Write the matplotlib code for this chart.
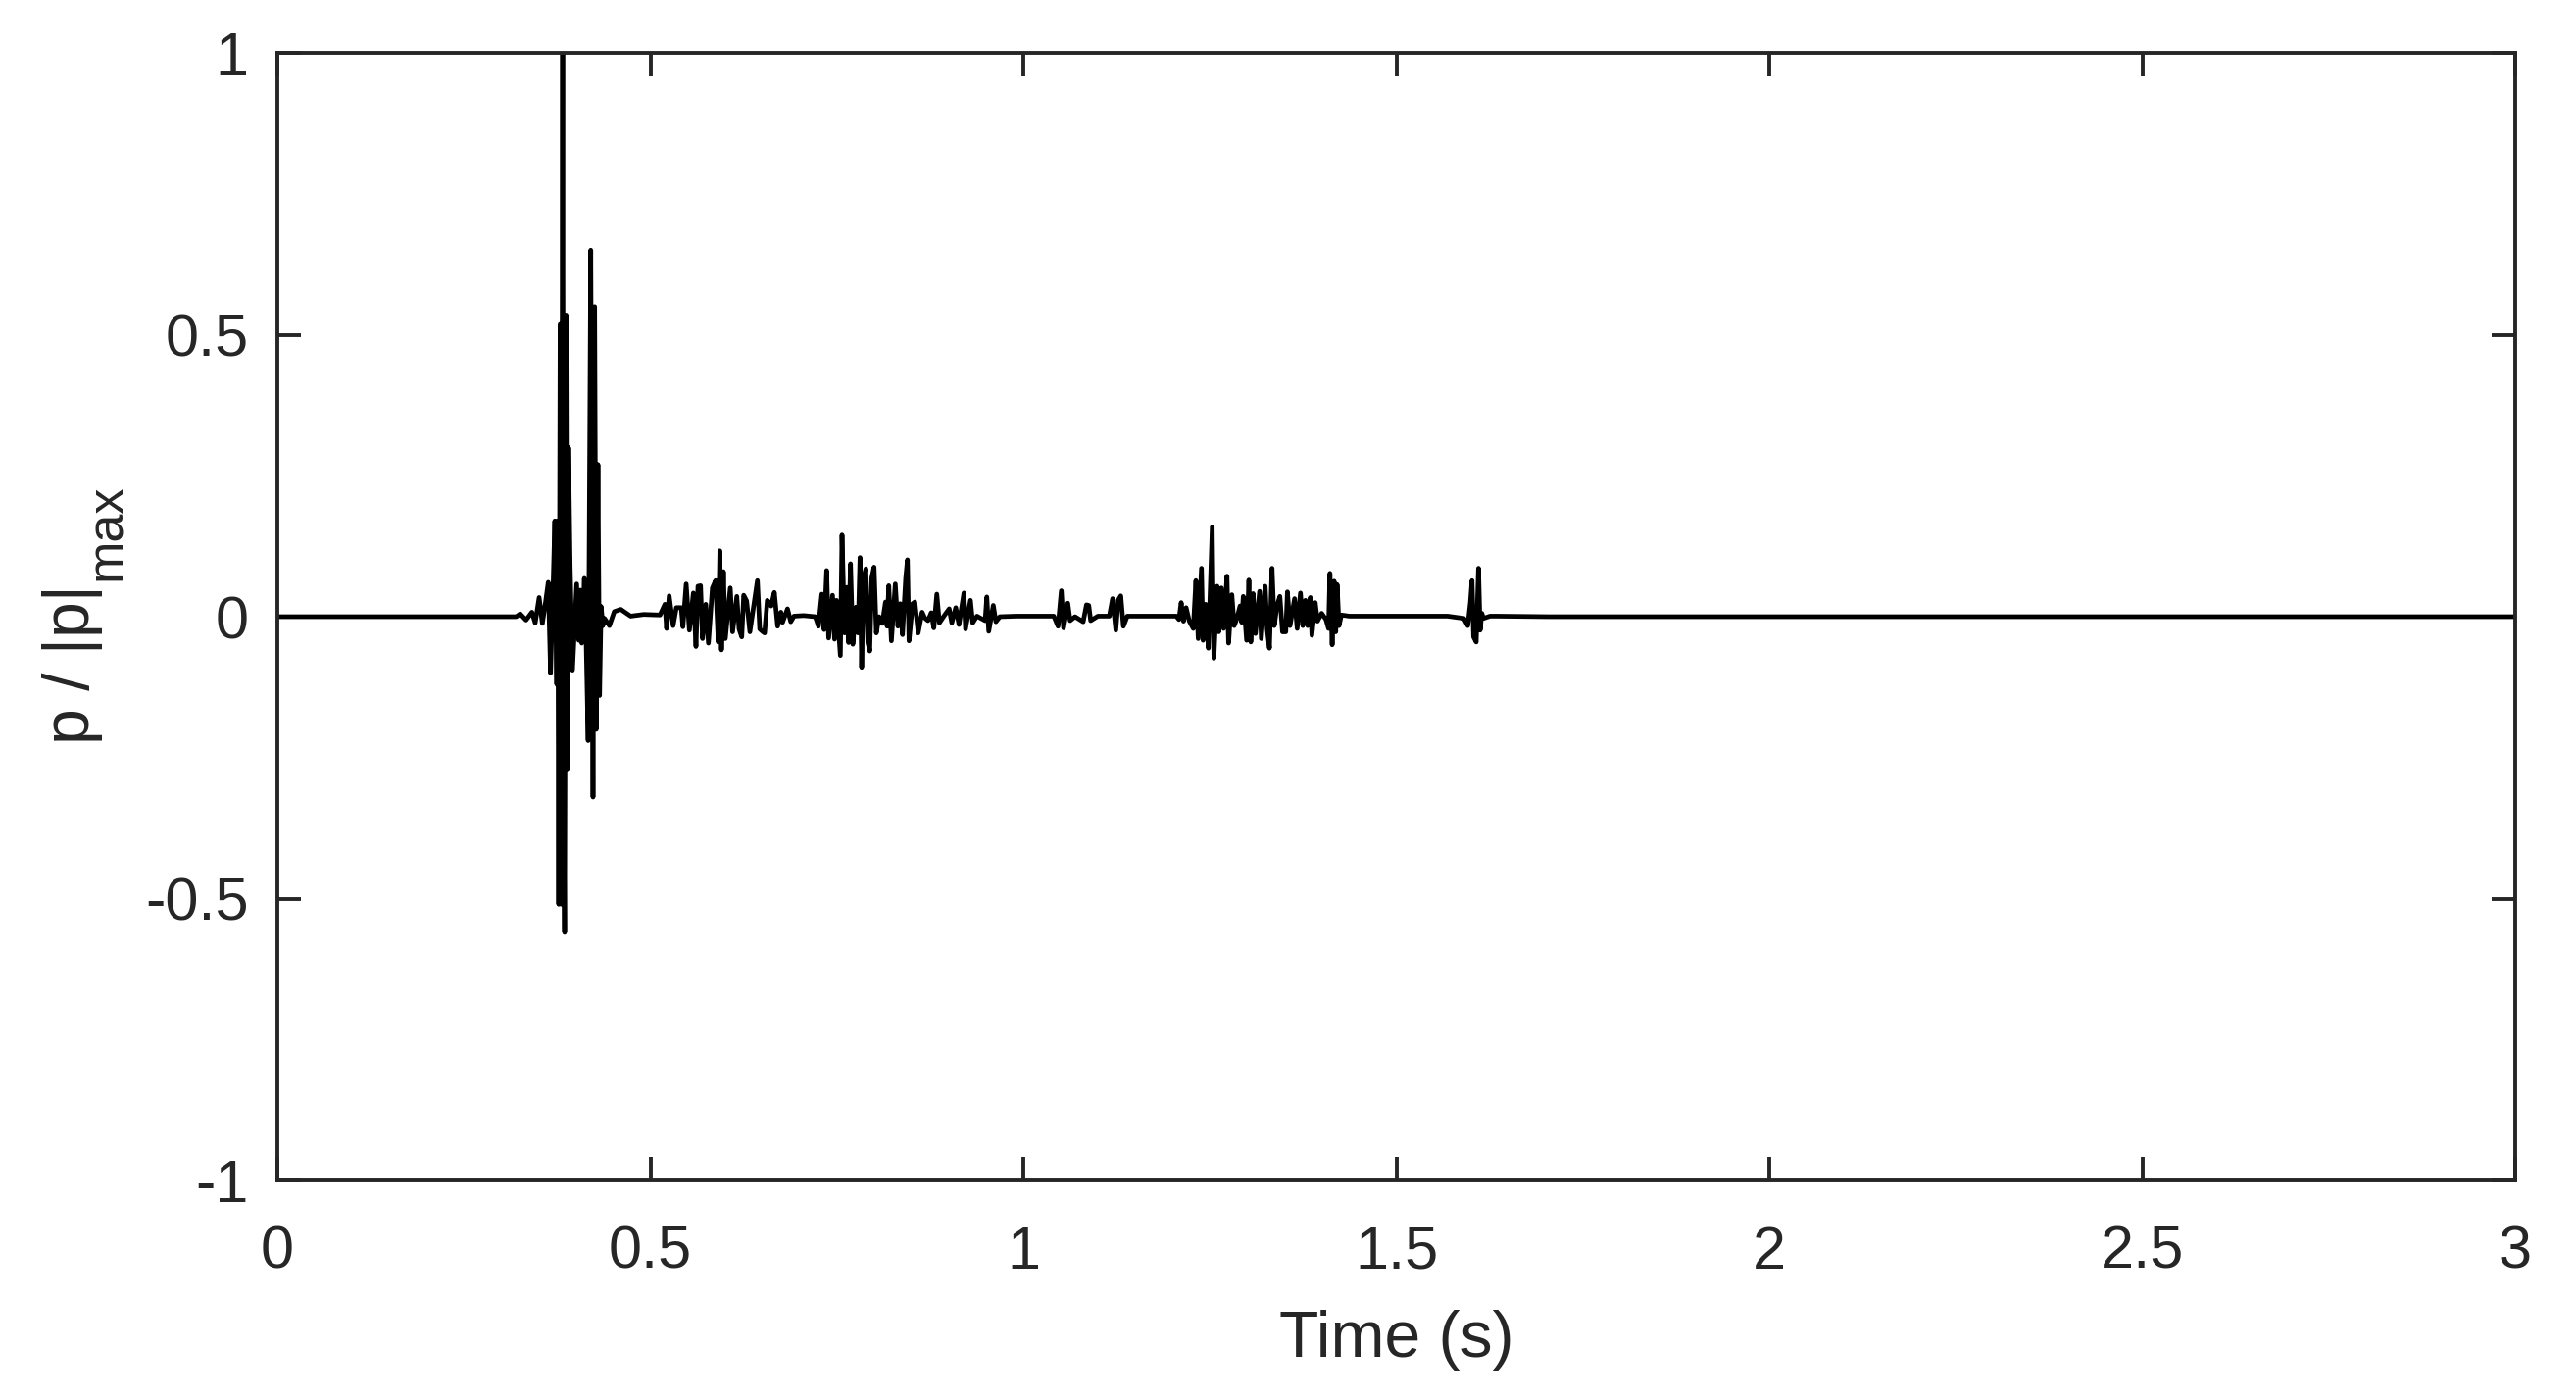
import matplotlib
matplotlib.use("Agg")
import matplotlib.pyplot as plt

plt.rcParams['font.family'] = ['Liberation Sans', 'DejaVu Sans']
plt.rcParams['axes.unicode_minus'] = False

# --- data: time (s) and normalised pressure ---
t_s = [
    0.0, 0.3000, 0.3202, 0.3255, 0.3333, 0.3412, 0.3456, 0.3509, 0.3552, 0.3596,
    0.3631, 0.3662, 0.3695, 0.3719, 0.3745, 0.3758, 0.3771, 0.3790, 0.3805, 0.3824,
    0.3838, 0.3850, 0.3870, 0.3886, 0.3903, 0.3925, 0.3956, 0.4012, 0.4040, 0.4060,
    0.4080, 0.4115, 0.4140, 0.4166, 0.4201, 0.4231, 0.4253, 0.4275, 0.4297, 0.4319,
    0.4340, 0.4363, 0.4385, 0.4451, 0.4516, 0.4603, 0.4735, 0.4911, 0.5129,
    # burst 0.52 - 0.69 s
    0.5195, 0.5217, 0.5252, 0.5305, 0.5348, 0.5414, 0.5436, 0.5480, 0.5523, 0.5576,
    0.5611, 0.5638, 0.5673, 0.5699, 0.5743, 0.5778, 0.5831, 0.5874, 0.5909, 0.5931,
    0.5953, 0.5979, 0.6005, 0.6071, 0.6102, 0.6159, 0.6189, 0.6225, 0.6251, 0.6290,
    0.6334, 0.6378, 0.6435, 0.6466, 0.6509, 0.6531, 0.6567, 0.6619, 0.6662, 0.6706,
    0.6750, 0.6772, 0.6838, 0.6882, 0.6925, 0.7057, 0.7210,
    # burst 0.72 - 0.97 s
    0.7254, 0.7298, 0.7329, 0.7363, 0.7390, 0.7442, 0.7469, 0.7495, 0.7547, 0.7569,
    0.7604, 0.7635, 0.7657, 0.7683, 0.7714, 0.7757, 0.7784, 0.7810, 0.7832, 0.7858,
    0.7889, 0.7915, 0.7941, 0.7968, 0.7999, 0.8029, 0.8065, 0.8108, 0.8152, 0.8174,
    0.8196, 0.8231, 0.8283, 0.8318, 0.8349, 0.8380, 0.8423, 0.8446, 0.8467, 0.8515,
    0.8546, 0.8590, 0.8643, 0.8677, 0.8721, 0.8765, 0.8800, 0.8840, 0.8874, 0.8940,
    0.9006, 0.9041, 0.9094, 0.9137, 0.9203, 0.9225, 0.9291, 0.9321, 0.9378, 0.9488,
    0.9510, 0.9536, 0.9597, 0.9632, 0.9685, 0.9904,
    # small bursts 1.04 - 1.14 s
    1.0408, 1.0465, 1.0509, 1.0539, 1.0596, 1.0627, 1.0693, 1.0802, 1.0846, 1.0877,
    1.0903, 1.0999, 1.1153, 1.1196, 1.1240, 1.1271, 1.1306, 1.1341, 1.1393, 1.1634,
    # burst 1.20 - 1.43 s
    1.2050, 1.2086, 1.2116, 1.2147, 1.2182, 1.2225, 1.2278, 1.2313, 1.2344, 1.2388,
    1.2409, 1.2444, 1.2480, 1.2532, 1.2554, 1.2598, 1.2620, 1.2655, 1.2685, 1.2730,
    1.2751, 1.2795, 1.2826, 1.2861, 1.2905, 1.2927, 1.2948, 1.2993, 1.3023, 1.3049,
    1.3080, 1.3111, 1.3167, 1.3190, 1.3242, 1.3268, 1.3299, 1.3334, 1.3364, 1.3400,
    1.3439, 1.3474, 1.3518, 1.3540, 1.3575, 1.3636, 1.3671, 1.3715, 1.3746, 1.3781,
    1.3811, 1.3847, 1.3868, 1.3913, 1.3943, 1.3999, 1.4057, 1.4091, 1.4110, 1.4140,
    1.4166, 1.4188, 1.4206, 1.4232, 1.4263, 1.4372, 1.4591, 1.5687,
    # last burst around 1.6 s
    1.5905, 1.5958, 1.5993, 1.6015, 1.6036, 1.6071, 1.6102, 1.6124, 1.6146, 1.6168,
    1.6256, 1.6343, 1.7044, 3.0,
]

p_norm = [
    0.0, 0.0, 0.0, 0.005, -0.006, 0.008, -0.011, 0.034, -0.012, 0.027,
    0.061, -0.100, 0.050, 0.170, -0.120, 0.170, -0.510, 0.520, -0.510, 1.000,
    -0.300, -0.560, 0.535, -0.270, 0.300, 0.090, -0.095, 0.058, -0.042, 0.047,
    -0.047, 0.068, -0.050, -0.220, 0.650, -0.320, 0.550, -0.200, 0.270, -0.140,
    0.018, -0.016, -0.003, -0.016, 0.009, 0.013, 0.001, 0.004, 0.003,
    # burst 0.52 - 0.69 s
    0.022, -0.021, 0.037, -0.016, 0.016, 0.016, -0.018, 0.058, -0.024, 0.042,
    -0.053, 0.054, 0.055, -0.039, 0.022, -0.047, 0.051, 0.064, -0.045, 0.117,
    -0.059, 0.080, -0.039, 0.051, -0.027, 0.036, -0.022, -0.036, 0.038, 0.028,
    -0.027, 0.013, 0.064, -0.022, -0.027, -0.029, 0.029, 0.019, 0.043, -0.017,
    0.008, -0.010, 0.014, -0.009, 0.001, 0.002, 0.0,
    # burst 0.72 - 0.97 s
    -0.017, 0.040, -0.023, 0.082, -0.038, 0.038, -0.040, 0.029, -0.069, 0.145,
    -0.029, 0.052, -0.046, 0.094, -0.049, 0.017, -0.029, 0.105, -0.090, 0.069,
    0.085, -0.046, -0.061, 0.069, 0.088, -0.029, 0.0, -0.012, 0.026, -0.017,
    0.055, -0.043, 0.058, -0.017, 0.023, -0.032, 0.069, 0.101, -0.043, 0.023,
    0.026, -0.029, 0.008, -0.002, -0.007, 0.007, -0.020, 0.040, -0.011, 0.002,
    0.014, -0.011, 0.016, -0.014, 0.042, -0.022, 0.029, -0.011, 0.001, -0.007,
    0.035, -0.026, 0.020, -0.009, 0.0, 0.001,
    # small bursts 1.04 - 1.14 s
    0.001, -0.017, 0.046, -0.020, 0.024, -0.007, 0.0, -0.009, 0.021, 0.020,
    -0.007, 0.001, 0.001, 0.032, -0.024, 0.029, 0.037, -0.017, 0.001, 0.001,
    # burst 1.20 - 1.43 s
    0.001, -0.005, 0.025, -0.008, 0.016, -0.008, -0.021, 0.064, -0.039, 0.086,
    -0.042, 0.022, -0.056, 0.159, -0.074, 0.054, -0.027, 0.051, -0.021, 0.072,
    -0.047, 0.039, -0.016, -0.004, 0.019, -0.010, 0.036, -0.042, 0.065, -0.045,
    0.041, -0.030, 0.045, -0.039, 0.054, -0.021, -0.056, 0.086, -0.016, 0.019,
    0.036, -0.027, -0.027, 0.044, -0.016, 0.032, -0.021, 0.042, -0.016, 0.029,
    -0.016, 0.034, -0.033, 0.025, -0.008, 0.006, -0.005, -0.021, 0.077, -0.050,
    0.063, -0.027, 0.057, -0.016, 0.003, 0.001, 0.001, 0.001,
    # last burst around 1.6 s
    -0.003, -0.016, 0.025, 0.064, -0.036, -0.045, 0.086, -0.024, 0.006, -0.003,
    0.001, 0.001, 0.0, 0.0,
]

x_ticks = [0, 0.5, 1, 1.5, 2, 2.5, 3]
x_tick_labels = ["0", "0.5", "1", "1.5", "2", "2.5", "3"]
y_ticks = [-1, -0.5, 0, 0.5, 1]
y_tick_labels = ["-1", "-0.5", "0", "0.5", "1"]

axis_col = "#262626"

fig = plt.figure(figsize=(26.28, 14.28), dpi=100)
ax = fig.add_axes([0.10769, 0.15686, 0.86872, 0.80532])

ax.plot(t_s, p_norm, color="black", linewidth=3.4)

ax.set_xlim(0, 3)
ax.set_ylim(-1, 1)
ax.set_xticks(x_ticks)
ax.set_xticklabels(x_tick_labels)
ax.set_yticks(y_ticks)
ax.set_yticklabels(y_tick_labels)

for s in ax.spines.values():
    s.set_linewidth(2.8)
    s.set_color(axis_col)

ax.tick_params(axis="both", direction="in", length=17, width=2.8,
               colors=axis_col, labelsize=44, top=True, right=True)
ax.tick_params(axis="x", pad=33)
ax.tick_params(axis="y", pad=21)

ax.set_xlabel("Time (s)", fontsize=47.5, color=axis_col)
ax.xaxis.set_label_coords(0.5, -0.1148)

# y label with a lowered "max" subscript
ax.set_ylabel("p / |p|", fontsize=47.5, color=axis_col)
ax.yaxis.set_label_coords(-0.078, 0.458)
ax.text(-0.0653, 0.575, "max", transform=ax.transAxes, rotation=90,
        ha="right", va="center", fontsize=37.5, color=axis_col)

fig.savefig("out.png", dpi=100)
